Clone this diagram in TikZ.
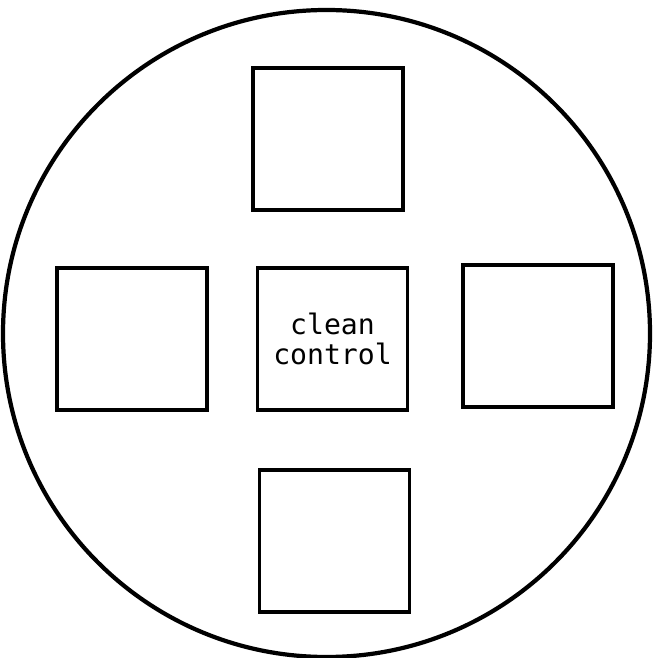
\documentclass[tikz,border=0pt]{standalone}
\usepackage{fontspec}
\newfontfamily\platefont{DejaVu Sans Mono}
\usetikzlibrary{positioning}
\tikzset{
  plato/.style={
    circle,
    draw=black,
    line width=1.2pt,
    minimum size=6.47cm,
    inner sep=0pt
  },
  pozo/.style={
    draw=black,
    line width=0.9pt,
    minimum width=1.50cm,
    minimum height=1.42cm,
    inner sep=0pt,
    align=center,
    font=\platefont\fontsize{8pt}{8.6pt}\selectfont
  }
}
\begin{document}
\begin{tikzpicture}
\useasboundingbox (0,0) rectangle (6.53,6.58);
\node[plato] (disco) at (3.265,3.245) {};
\node[pozo] (arriba) at (3.28,5.19) {};
\node[pozo] (izq) at (1.32,3.19) {};
\node[pozo] (centro) at (3.325,3.19) {clean\\control};
\node[pozo] (der) at (5.38,3.22) {};
\node[pozo] (abajo) at (3.345,1.17) {};
\end{tikzpicture}
\end{document}
